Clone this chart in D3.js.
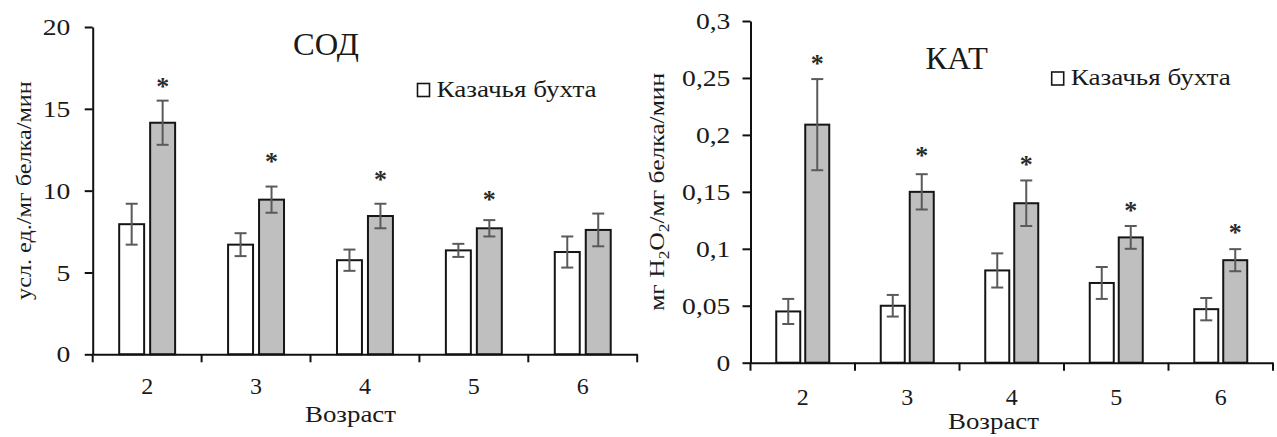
<!DOCTYPE html>
<html><head><meta charset="utf-8">
<script src="https://cdn.jsdelivr.net/npm/d3@7"></script>
</head><body style="margin:0;background:#fff">
<svg id="c" width="1277" height="437" style="display:block"></svg>
<script>
// ---- data ----
const categories = ["2", "3", "4", "5", "6"];

const sodControl    = [7.95, 6.7, 5.75, 6.35, 6.25];
const sodControlErr = [1.25, 0.7, 0.65, 0.4, 0.95];
const sodBay        = [14.15, 9.45, 8.45, 7.7, 7.6];
const sodBayErr     = [1.35, 0.8, 0.75, 0.5, 1.0];
const sodStars      = [16.6, 12.0, 10.9, 9.65, null];
const sodTicks      = [0, 5, 10, 15, 20];
const sodTickLabels = ["0", "5", "10", "15", "20"];

const catControl    = [0.045, 0.05, 0.081, 0.07, 0.047];
const catControlErr = [0.011, 0.0095, 0.015, 0.014, 0.0098];
const catBay        = [0.209, 0.15, 0.14, 0.11, 0.09];
const catBayErr     = [0.04, 0.0155, 0.02, 0.01, 0.0097];
const catStars      = [0.266, 0.185, 0.177, 0.137, 0.1175];
const catTicks      = [0, 0.05, 0.1, 0.15, 0.2, 0.25, 0.3];
const catTickLabels = ["0", "0,05", "0,1", "0,15", "0,2", "0,25", "0,3"];

const legendLabel = "Казачья бухта";
const xTitle = "Возраст";

const FONT = "Liberation Serif";
const INK = "#1a1a1a";
const svg = d3.select("#c").attr("font-family", FONT);

function stretchText(g, str, x, y, size, sx, anchor, rot) {
  return g.append("text")
    .attr("transform", `translate(${x},${y}) rotate(${rot || 0}) scale(${sx},1)`)
    .attr("font-family", FONT)
    .attr("font-size", size)
    .attr("fill", INK)
    .attr("text-anchor", anchor || "start")
    .text(str);
}

function drawPanel(cfg) {
  const g = svg.append("g");
  const x = d3.scaleBand().domain(categories).range([cfg.x0, cfg.x1]).paddingInner(0).paddingOuter(0);
  const inner = d3.scaleBand().domain(["c", "b"]).range([0, x.bandwidth()])
    .paddingInner(cfg.pIn).paddingOuter(cfg.pOut);
  const y = d3.scaleLinear().domain([0, cfg.max]).range([cfg.yb, cfg.yt]);

  const rows = categories.map((c, i) => ({
    c, control: cfg.control[i], controlErr: cfg.controlErr[i],
    bay: cfg.bay[i], bayErr: cfg.bayErr[i], star: cfg.stars[i]
  }));

  const series = [
    {key: "c", fill: "#ffffff", v: "control", e: "controlErr"},
    {key: "b", fill: "#bfbfbf", v: "bay", e: "bayErr"}
  ];

  series.forEach(s => {
    g.selectAll(null).data(rows).enter().append("rect")
      .attr("x", d => x(d.c) + inner(s.key))
      .attr("width", inner.bandwidth())
      .attr("y", d => y(d[s.v]))
      .attr("height", d => y(0) - y(d[s.v]))
      .attr("fill", s.fill)
      .attr("stroke", "#151515")
      .attr("stroke-width", 2);
  });

  series.forEach(s => {
    const eg = g.selectAll(null).data(rows).enter().append("g")
      .attr("stroke", "#5a5a5a").attr("stroke-width", 2);
    const cx = d => x(d.c) + inner(s.key) + inner.bandwidth() / 2;
    eg.append("line").attr("x1", cx).attr("x2", cx)
      .attr("y1", d => y(d[s.v] + d[s.e])).attr("y2", d => y(d[s.v] - d[s.e]));
    eg.append("line").attr("x1", d => cx(d) - 6).attr("x2", d => cx(d) + 6)
      .attr("y1", d => y(d[s.v] + d[s.e])).attr("y2", d => y(d[s.v] + d[s.e]));
    eg.append("line").attr("x1", d => cx(d) - 6).attr("x2", d => cx(d) + 6)
      .attr("y1", d => y(d[s.v] - d[s.e])).attr("y2", d => y(d[s.v] - d[s.e]));
  });

  // stars
  g.selectAll(null).data(rows.filter(d => d.star != null)).enter().append("text")
    .attr("x", d => x(d.c) + inner("b") + inner.bandwidth() / 2)
    .attr("y", d => y(d.star) + 12)
    .attr("text-anchor", "middle")
    .attr("font-family", FONT)
    .attr("font-size", 26)
    .attr("font-weight", "bold")
    .attr("fill", "#2a2a2a")
    .text("*");

  // y axis
  const ya = g.append("g").attr("transform", `translate(${cfg.x0},0)`)
    .call(d3.axisLeft(y).tickValues(cfg.ticks).tickFormat((d, i) => cfg.tickLabels[i])
      .tickSize(8).tickSizeOuter(0).tickPadding(cfg.tickPad));
  ya.attr("font-family", FONT);
  ya.selectAll("path,line").attr("stroke", "#111").attr("stroke-width", 2);
  ya.selectAll("text").attr("font-family", FONT).attr("font-size", 24)
    .attr("fill", INK).attr("transform", "scale(1.15,1)");

  // x axis
  const xa = g.append("g").attr("transform", `translate(0,${cfg.yb})`)
    .call(d3.axisBottom(x).tickSize(0).tickSizeOuter(0));
  xa.attr("font-family", FONT);
  xa.select(".domain").attr("stroke", "#111").attr("stroke-width", 2);
  xa.selectAll("text").attr("font-family", FONT).attr("font-size", 24)
    .attr("fill", INK).attr("dy", 0).attr("y", cfg.xLabOff);
  const bounds = categories.map(c => x(c)).concat([x.range()[1]]);
  xa.selectAll(null).data(bounds).enter().append("line")
    .attr("x1", d => d).attr("x2", d => d).attr("y1", 0).attr("y2", 8)
    .attr("stroke", "#111").attr("stroke-width", 2);

  // title
  stretchText(g, cfg.title, cfg.titleX, cfg.titleY, 31, 1.05, "middle");

  // legend
  g.append("rect").attr("x", cfg.legX).attr("y", cfg.legY - 13).attr("width", 12).attr("height", 13)
    .attr("fill", "#fff").attr("stroke", "#151515").attr("stroke-width", 1.6);
  stretchText(g, legendLabel, cfg.legX + 19, cfg.legY, 23, 1.18, "start");

  // x title
  stretchText(g, xTitle, cfg.xtX, cfg.xtY, 24, 1.12, "start");

  // y title
  const yt = g.append("text")
    .attr("transform", `translate(${cfg.ytX},${(cfg.yb + cfg.yt) / 2}) rotate(-90) scale(${cfg.ytS},1)`)
    .attr("font-family", FONT).attr("fill", INK)
    .attr("font-size", 22).attr("text-anchor", "middle");
  cfg.ylabel.forEach(p => {
    const ts = yt.append("tspan").text(p.t);
    if (p.sub) ts.attr("font-size", 15).attr("dy", 5);
    if (p.up) ts.attr("dy", -5);
  });
}

drawPanel({
  x0: 92.7, x1: 637.2, yb: 354.3, yt: 27, max: 20,
  pIn: 0.194, pOut: 0.855,
  control: sodControl, controlErr: sodControlErr, bay: sodBay, bayErr: sodBayErr, stars: sodStars,
  ticks: sodTicks, tickLabels: sodTickLabels, tickPad: 11.5, xLabOff: 39.5,
  title: "СОД", titleX: 326, titleY: 55,
  legX: 417.5, legY: 96.5,
  xtX: 305, xtY: 422,
  ytX: 31, ytS: 1.1,
  ylabel: [{t: "усл. ед./мг белка/мин"}]
});

drawPanel({
  x0: 750.5, x1: 1273, yb: 362.7, yt: 21, max: 0.3,
  pIn: 0.172, pOut: 0.888,
  control: catControl, controlErr: catControlErr, bay: catBay, bayErr: catBayErr, stars: catStars,
  ticks: catTicks, tickLabels: catTickLabels, tickPad: 9.5, xLabOff: 42,
  title: "КАТ", titleX: 956.7, titleY: 69,
  legX: 1051.7, legY: 85,
  xtX: 948, xtY: 429,
  ytX: 664, ytS: 1.16,
  ylabel: [{t: "мг H"}, {t: "2", sub: true}, {t: "O", up: true}, {t: "2", sub: true}, {t: "/мг белка/мин", up: true}]
});
</script>
</body></html>
